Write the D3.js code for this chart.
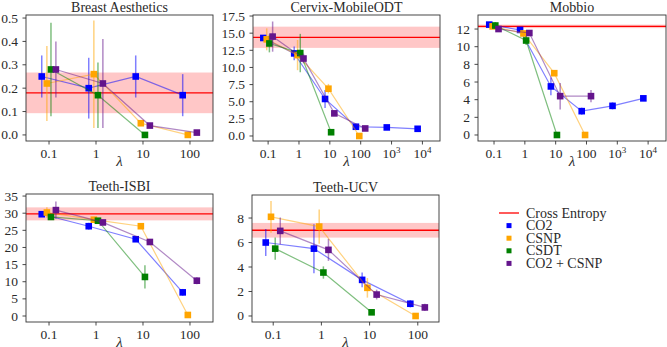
<!DOCTYPE html>
<html><head><meta charset="utf-8">
<script src="https://cdn.jsdelivr.net/npm/d3@7"></script>
<style>body{margin:0;background:#fff}svg{display:block}</style>
</head><body><svg id="c" width="667" height="347" font-family="Liberation Serif" fill="#222"></svg>
<script>
const lambdas = [0.1, 1, 10, 100, 1000, 10000];
const seriesNames = ["CO2", "CSNP", "CSDT", "CO2 + CSNP"];
const seriesColors = ["#0000ff", "#ffa500", "#008000", "#64148c"];

// Breast Aesthetics
const breastCE = [0.18, 0.087];
const breastCO2 = [0.25, 0.20, 0.25, 0.17];
const breastCO2Err = [0.09, 0.13, 0.09, 0.09];
const breastCSNP = [0.22, 0.26, 0.05, 0.0];
const breastCSNPErr = [0.16, 0.23, 0.01, 0.0];
const breastCSDT = [0.28, 0.17, 0.0];
const breastCSDTErr = [0.2, 0.14, 0.0];
const breastMix = [0.28, 0.22, 0.04, 0.01];
const breastMixErr = [0.12, 0.19, 0.01, 0.0];

// Cervix-MobileODT
const cervixCE = [14.4, 1.55];
const cervixCO2 = [14.3, 12.05, 5.4, 1.35, 1.25, 1.05];
const cervixCO2Err = [0.3, 1.0, 1.3, 0.3, 0.2, 0.2];
const cervixCSNP = [14.1, 11.8, 6.9, 0.0];
const cervixCSNPErr = [1.6, 2.2, 0.7, 0.0];
const cervixCSDT = [13.5, 12.1, 0.55];
const cervixCSDTErr = [1.3, 2.8, 0.2];
const cervixMix = [14.5, 11.3, 3.3, 1.1];
const cervixMixErr = [2.2, 0.7, 0.3, 0.2];

// Mobbio
const mobbioCE = [12.3, 0.2];
const mobbioCO2 = [12.5, 11.9, 5.5, 2.7, 3.3, 4.15];
const mobbioCO2Err = [0.2, 0.2, 1.0, 0.4, 0.4, 0.2];
const mobbioCSNP = [12.3, 11.5, 7.0, 0.0];
const mobbioCSNPErr = [0.2, 0.2, 0.2, 0.0];
const mobbioCSDT = [12.4, 10.7, 0.0];
const mobbioCSDTErr = [0.4, 0.5, 0.0];
const mobbioMix = [12.0, 11.55, 4.4, 4.4];
const mobbioMixErr = [0.2, 0.3, 1.5, 0.7];

// Teeth-ISBI
const isbiCE = [29.8, 1.9];
const isbiCO2 = [29.7, 26.2, 22.4, 6.9];
const isbiCO2Err = [0.5, 1.0, 0.8, 1.0];
const isbiCSNP = [30.2, 28.1, 26.2, 0.3];
const isbiCSNPErr = [1.5, 0.5, 0.5, 0.2];
const isbiCSDT = [28.9, 27.8, 11.4];
const isbiCSDTErr = [0.6, 0.6, 3.4];
const isbiMix = [30.9, 27.3, 21.6, 10.3];
const isbiMixErr = [2.5, 0.6, 0.5, 1.0];

// Teeth-UCV
const ucvCE = [7.0, 0.6];
const ucvCO2 = [6.0, 5.5, 2.95, 1.0];
const ucvCO2Err = [1.1, 2.0, 0.6, 0.3];
const ucvCSNP = [8.1, 7.3, 2.3, 0.0];
const ucvCSNPErr = [1.3, 1.4, 0.8, 0.0];
const ucvCSDT = [5.5, 3.55, 0.3];
const ucvCSDTErr = [0.9, 0.5, 0.1];
const ucvMix = [6.95, 5.4, 1.75, 0.7];
const ucvMixErr = [1.1, 0.9, 0.4, 0.3];

const breastYTicks = [0, 0.1, 0.2, 0.3, 0.4, 0.5];
const cervixYTicks = [0, 2.5, 5, 7.5, 10, 12.5, 15, 17.5];
const mobbioYTicks = [0, 2, 4, 6, 8, 10, 12];
const isbiYTicks = [0, 5, 10, 15, 20, 25, 30, 35];
const ucvYTicks = [0, 2, 4, 6, 8];
const shortXTicks = [0.1, 1, 10, 100];
const longXTicks = [0.1, 1, 10, 100, 1000, 10000];

const panels = [
  {title: "Breast Aesthetics", ce: breastCE, vals: [breastCO2, breastCSNP, breastCSDT, breastMix], errs: [breastCO2Err, breastCSNPErr, breastCSDTErr, breastMixErr], yTicks: breastYTicks, yFmt: d3.format(".1f"), xTicks: shortXTicks, box: [26, 15, 213, 141], xDom: [-1.49, 2.49], yDom: [-0.026, 0.513]},
  {title: "Cervix-MobileODT", ce: cervixCE, vals: [cervixCO2, cervixCSNP, cervixCSDT, cervixMix], errs: [cervixCO2Err, cervixCSNPErr, cervixCSDTErr, cervixMixErr], yTicks: cervixYTicks, yFmt: d3.format(".1f"), xTicks: longXTicks, box: [253, 15, 440, 141], xDom: [-1.49, 4.57], yDom: [-0.73, 17.65]},
  {title: "Mobbio", ce: mobbioCE, vals: [mobbioCO2, mobbioCSNP, mobbioCSDT, mobbioMix], errs: [mobbioCO2Err, mobbioCSNPErr, mobbioCSDTErr, mobbioMixErr], yTicks: mobbioYTicks, yFmt: d3.format("d"), xTicks: longXTicks, box: [478, 15, 666, 141], xDom: [-1.52, 4.58], yDom: [-0.68, 13.59]},
  {title: "Teeth-ISBI", ce: isbiCE, vals: [isbiCO2, isbiCSNP, isbiCSDT, isbiMix], errs: [isbiCO2Err, isbiCSNPErr, isbiCSDTErr, isbiMixErr], yTicks: isbiYTicks, yFmt: d3.format("d"), xTicks: shortXTicks, box: [26, 194, 213, 322], xDom: [-1.49, 2.49], yDom: [-1.75, 35.6]},
  {title: "Teeth-UCV", ce: ucvCE, vals: [ucvCO2, ucvCSNP, ucvCSDT, ucvMix], errs: [ucvCO2Err, ucvCSNPErr, ucvCSDTErr, ucvMixErr], yTicks: ucvYTicks, yFmt: d3.format("d"), xTicks: shortXTicks, box: [252, 195, 439, 322], xDom: [-1.44, 2.44], yDom: [-0.49, 9.88]}
];
const xOffsets = [0.7, 0.9, 1.1, 1.4];

const FONT = "'Liberation Serif', 'DejaVu Serif', serif";
const svg = d3.select("#c");
const txt = (sel) => sel.append("text").attr("font-family", FONT).attr("fill", "#2a2a2a").attr("font-weight", "normal");
const tickFmt = (g, v) => {
  const t = txt(g);
  if (v >= 1000) {
    t.append("tspan").text("10");
    t.append("tspan").attr("dy", -5).attr("font-size", 9).text(Math.round(Math.log10(v)));
  } else t.text(v >= 1 ? d3.format("d")(v) : v);
  return t;
};

panels.forEach(p => {
  const [x0, y0, x1, y1] = p.box;
  const x = d3.scaleLog().domain([Math.pow(10, p.xDom[0]), Math.pow(10, p.xDom[1])]).range([x0, x1]);
  const y = d3.scaleLinear().domain(p.yDom).range([y1, y0]);
  const g = svg.append("g");
  const clipId = "clip" + x0 + "_" + y0;
  g.append("clipPath").attr("id", clipId).append("rect").attr("x", x0).attr("y", y0).attr("width", x1 - x0).attr("height", y1 - y0);
  const inner = g.append("g").attr("clip-path", `url(#${clipId})`);
  inner.append("rect").attr("x", x0).attr("width", x1 - x0)
    .attr("y", y(p.ce[0] + p.ce[1])).attr("height", y(p.ce[0] - p.ce[1]) - y(p.ce[0] + p.ce[1]))
    .attr("fill", "#ff0000").attr("opacity", 0.22);
  inner.append("line").attr("x1", x0).attr("x2", x1).attr("y1", y(p.ce[0])).attr("y2", y(p.ce[0]))
    .attr("stroke", "#ff0000").attr("stroke-width", 1.3);
  p.vals.forEach((vals, si) => {
    const col = seriesColors[si];
    const pts = vals.map((v, i) => ({x: lambdas[i] * xOffsets[si], v, e: p.errs[si][i]}));
    inner.append("path").datum(pts)
      .attr("d", d3.line().x(d => x(d.x)).y(d => y(d.v)))
      .attr("fill", "none").attr("stroke", col).attr("stroke-opacity", 0.5).attr("stroke-width", 1.2);
    inner.selectAll(null).data(pts).join("line")
      .attr("x1", d => x(d.x)).attr("x2", d => x(d.x))
      .attr("y1", d => y(d.v - d.e)).attr("y2", d => y(d.v + d.e))
      .attr("stroke", col).attr("stroke-opacity", 0.5).attr("stroke-width", 1.5);
    inner.selectAll(null).data(pts).join("rect")
      .attr("x", d => x(d.x) - 3.3).attr("y", d => y(d.v) - 3.3)
      .attr("width", 6.6).attr("height", 6.6).attr("fill", col);
  });
  g.append("rect").attr("x", x0).attr("y", y0).attr("width", x1 - x0).attr("height", y1 - y0)
    .attr("fill", "none").attr("stroke", "#333").attr("stroke-width", 0.9);
  p.xTicks.forEach(v => {
    const xx = x(v);
    g.append("line").attr("x1", xx).attr("x2", xx).attr("y1", y1).attr("y2", y1 + 3.5).attr("stroke", "#333").attr("stroke-width", 0.9);
    const tg = g.append("g").attr("transform", `translate(${xx},${y1 + 17})`);
    tickFmt(tg, v).attr("text-anchor", "middle").attr("font-size", 13.5);
  });
  p.yTicks.forEach(v => {
    const yy = y(v);
    g.append("line").attr("x1", x0 - 3.5).attr("x2", x0).attr("y1", yy).attr("y2", yy).attr("stroke", "#333").attr("stroke-width", 0.9);
    txt(g).attr("x", x0 - 8).attr("y", yy + 4.5).attr("text-anchor", "end").attr("font-size", 13.5).text(p.yFmt(v));
  });
  txt(g).attr("x", (x0 + x1) / 2).attr("y", y0 - 3).attr("text-anchor", "middle").attr("font-size", 14).text(p.title);
  txt(g).attr("x", (x0 + x1) / 2).attr("y", y1 + 25).attr("text-anchor", "middle").attr("font-size", 15).attr("font-style", "italic").text("λ");
});

const lg = svg.append("g").attr("transform", "translate(499,213)");
lg.append("line").attr("x1", 0).attr("x2", 20).attr("y1", 0).attr("y2", 0).attr("stroke", "#ff0000").attr("stroke-width", 1.3);
txt(lg).attr("x", 27).attr("y", 4.5).attr("font-size", 14).text("Cross Entropy");
seriesNames.forEach((n, i) => {
  const yy = 12.6 * (i + 1);
  lg.append("rect").attr("x", 7.5).attr("y", yy - 2.5).attr("width", 5).attr("height", 5).attr("fill", seriesColors[i]);
  txt(lg).attr("x", 27).attr("y", yy + 4.5).attr("font-size", 14).text(n);
});
</script></body></html>
